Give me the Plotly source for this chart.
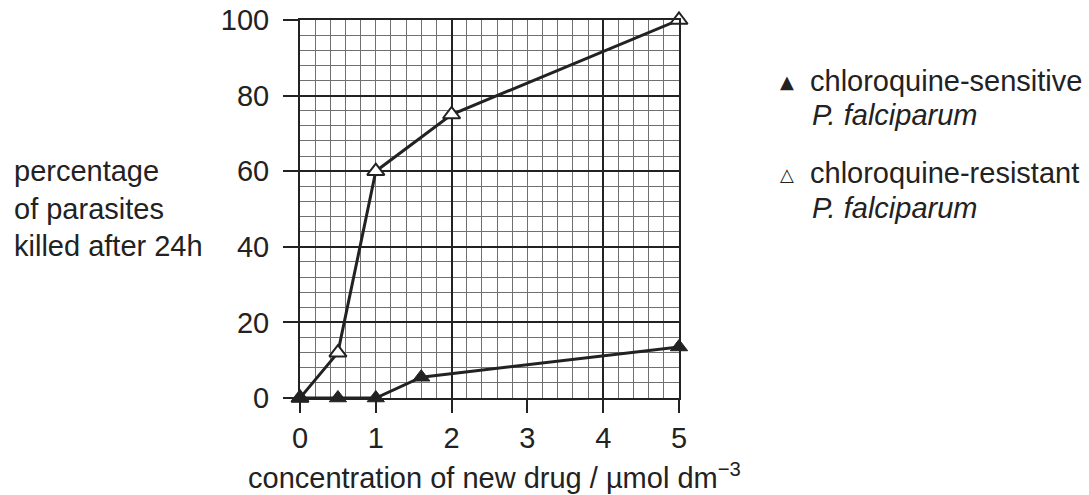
import plotly.graph_objects as go

# ---- data ----
x_sensitive = [0, 0.5, 1, 1.6, 5]
y_sensitive = [0, 0, 0, 5.5, 13.5]
x_resistant = [0, 0.5, 1, 2, 5]
y_resistant = [0, 12, 60, 75, 100]
x_ticks = [0, 1, 2, 3, 4, 5]
y_ticks = [0, 20, 40, 60, 80, 100]

legend_sensitive = ["chloroquine-sensitive", "<i>P. falciparum</i>"]
legend_resistant = ["chloroquine-resistant", "<i>P. falciparum</i>"]
y_title = "percentage<br>of parasites<br>killed after 24h"
x_title = "concentration of new drug / µmol dm<sup>−3</sup>"

FONT = "Liberation Sans, Arial, sans-serif"
FS = 29
INK = "#222222"
MINOR = "#707070"

W, H = 1089, 495
L, T = 300, 20
R = W - 679
B = H - 398
PW, PH = W - L - R, H - T - B


def px(xp):
    return (xp - L) / PW


def py(yp):
    return (H - B - yp) / PH


fig = go.Figure()

fig.add_trace(go.Scatter(
    x=x_resistant, y=y_resistant, mode="lines+markers",
    line=dict(color=INK, width=3),
    marker=dict(symbol="triangle-up", size=15, color="white",
                line=dict(color=INK, width=2)),
    cliponaxis=False, hoverinfo="skip",
))
fig.add_trace(go.Scatter(
    x=x_sensitive, y=y_sensitive, mode="lines+markers",
    line=dict(color=INK, width=3),
    marker=dict(symbol="triangle-up", size=15, color=INK,
                line=dict(color=INK, width=1)),
    cliponaxis=False, hoverinfo="skip",
))
# invisible trace so the overlay axis (major x grid) is created
fig.add_trace(go.Scatter(x=[x_ticks[0]], y=[y_ticks[0]], xaxis="x2",
                         mode="markers", marker=dict(opacity=0),
                         hoverinfo="skip"))

fig.update_layout(
    width=W, height=H, autosize=False,
    margin=dict(l=L, r=R, t=T, b=B, pad=0, autoexpand=False),
    paper_bgcolor="white", plot_bgcolor="white",
    showlegend=False,
    font=dict(family=FONT, size=FS, color=INK),
    xaxis=dict(
        range=[0, 5], tickvals=x_ticks, ticktext=[str(v) for v in x_ticks],
        ticks="outside", ticklen=13, tickwidth=2, tickcolor=INK,
        showline=True, linecolor=INK, linewidth=2, mirror=True,
        showgrid=True, gridcolor=MINOR, gridwidth=1,
        minor=dict(dtick=0.2, tick0=0, showgrid=True, gridcolor=MINOR,
                   gridwidth=1, ticks=""),
        zeroline=False, tickfont=dict(size=FS, color=INK, family=FONT),
        ticklabeloverflow="allow",
        fixedrange=True, automargin=False,
    ),
    xaxis2=dict(
        range=[0, 5], overlaying="x", tick0=0, dtick=2,
        showgrid=True, gridcolor=INK, gridwidth=1.6,
        showticklabels=False, ticks="", showline=False, zeroline=False,
        fixedrange=True, automargin=False,
    ),
    yaxis=dict(
        range=[0, 100], tickvals=y_ticks,
        ticks="outside", ticklen=15, tickwidth=2, tickcolor=INK,
        showline=True, linecolor=INK, linewidth=2, mirror=True,
        showgrid=True, gridcolor=INK, gridwidth=1.6,
        minor=dict(dtick=4, tick0=0, showgrid=True, gridcolor=MINOR,
                   gridwidth=1, ticks=""),
        zeroline=False, tickfont=dict(size=FS, color=INK, family=FONT),
        ticklabelstandoff=8, ticklabeloverflow="allow",
        fixedrange=True, automargin=False,
    ),
)

ann = []
ann.append(dict(text=y_title, x=px(12), y=py(208), xref="paper", yref="paper",
                xanchor="left", yanchor="middle", align="left",
                showarrow=False, font=dict(size=FS, color=INK, family=FONT)))
ann.append(dict(text=x_title, x=px(246), y=py(476), xref="paper", yref="paper",
                xanchor="left", yanchor="middle", align="left",
                showarrow=False, font=dict(size=FS, color=INK, family=FONT)))

# legend text
for txt, xp, yp in [(legend_sensitive[0], 808, 81), (legend_sensitive[1], 810, 115),
                    (legend_resistant[0], 808, 173), (legend_resistant[1], 810, 208)]:
    ann.append(dict(text=txt, x=px(xp), y=py(yp), xref="paper", yref="paper",
                    xanchor="left", yanchor="middle", showarrow=False,
                    font=dict(size=FS, color=INK, family=FONT)))
# legend symbols
ann.append(dict(text="▲", x=px(787), y=py(81), xref="paper", yref="paper",
                xanchor="center", yanchor="middle", showarrow=False,
                font=dict(size=18, color=INK, family="DejaVu Sans")))
ann.append(dict(text="△", x=px(787), y=py(174), xref="paper", yref="paper",
                xanchor="center", yanchor="middle", showarrow=False,
                font=dict(size=18, color=INK, family="DejaVu Sans")))

fig.update_layout(annotations=ann)

fig.write_html(
    "out.html",
    config={"displayModeBar": False},
    post_script="document.body.style.margin='0px';"
                "document.body.style.overflow='hidden';",
)
